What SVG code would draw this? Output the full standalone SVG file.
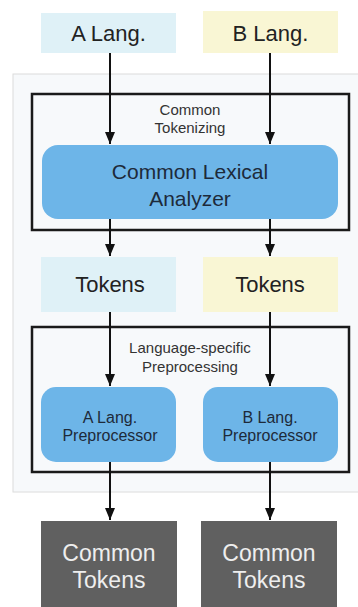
<svg xmlns="http://www.w3.org/2000/svg" width="358" height="607" viewBox="0 0 358 607">
<defs>
<marker id="ah" viewBox="0 0 12 10" refX="12" refY="5" markerWidth="12" markerHeight="10" markerUnits="userSpaceOnUse" orient="auto">
<path d="M0,0 L12,5 L0,10 z" fill="#111"/>
</marker>
<style>
text{font-family:"Liberation Sans",Arial,sans-serif;text-anchor:middle;dominant-baseline:central}
.a{fill:#dff1f7}
.b{fill:#f9f6d4}
.lex{fill:#6db5e8}
.grp{fill:none;stroke:#1a1a1a;stroke-width:2.5}
.dark{fill:#606060}
.t18{font-size:22px;fill:#222}
.t17{font-size:21px;fill:#1d2a3a}
.t13{font-size:16px;fill:#1d2a3a}
.t12{font-size:15px;fill:#333}
.tw{font-size:23px;fill:#eeeeee}
.c{stroke:#111;stroke-width:2;fill:none;marker-end:url(#ah)}
</style>
</defs>
<rect width="358" height="607" fill="#ffffff"/>
<rect x="13" y="74" width="350" height="418" fill="#f7f9fb" stroke="#dcdcdc" stroke-width="1"/>
<g id="a-lang"><rect class="a" x="41" y="13" width="135" height="40"/><text class="t18" x="108.5" y="33">A Lang.</text></g>
<g id="b-lang"><rect class="b" x="203" y="11" width="135" height="42"/><text class="t18" x="270.5" y="33">B Lang.</text></g>
<g id="common-tokenizing"><rect class="grp" x="32" y="94" width="317" height="136"/><text class="t12" x="190" y="109">Common</text><text class="t12" x="190" y="127">Tokenizing</text></g>
<g id="lexer"><rect class="lex" x="42" y="145" width="296" height="74" rx="16"/><text class="t17" x="190" y="171">Common Lexical</text><text class="t17" x="190" y="198">Analyzer</text></g>
<g id="tokens-a"><rect class="a" x="41" y="257" width="135" height="55"/><text class="t18" x="110" y="284">Tokens</text></g>
<g id="tokens-b"><rect class="b" x="203" y="257" width="135" height="55"/><text class="t18" x="270" y="284">Tokens</text></g>
<g id="lang-specific"><rect class="grp" x="32" y="327" width="317" height="145"/><text class="t12" x="190" y="347">Language-specific</text><text class="t12" x="190" y="366">Preprocessing</text></g>
<g id="pre-a"><rect class="lex" x="41" y="387" width="135" height="75" rx="15"/><text class="t13" x="110" y="417">A Lang.</text><text class="t13" x="110" y="435">Preprocessor</text></g>
<g id="pre-b"><rect class="lex" x="203" y="387" width="135" height="75" rx="15"/><text class="t13" x="270" y="417">B Lang.</text><text class="t13" x="270" y="435">Preprocessor</text></g>
<g id="ct-a"><rect class="dark" x="41" y="521" width="136" height="86"/><text class="tw" x="109" y="553">Common</text><text class="tw" x="109" y="580">Tokens</text></g>
<g id="ct-b"><rect class="dark" x="201" y="521" width="136" height="86"/><text class="tw" x="269" y="553">Common</text><text class="tw" x="269" y="580">Tokens</text></g>
<g id="connectors">
<path class="c" d="M110,53 V144"/>
<path class="c" d="M270,53 V144"/>
<path class="c" d="M110,219 V256"/>
<path class="c" d="M270,219 V256"/>
<path class="c" d="M110,312 V386"/>
<path class="c" d="M270,312 V386"/>
<path class="c" d="M110,462 V520"/>
<path class="c" d="M270,462 V520"/>
</g>
</svg>
